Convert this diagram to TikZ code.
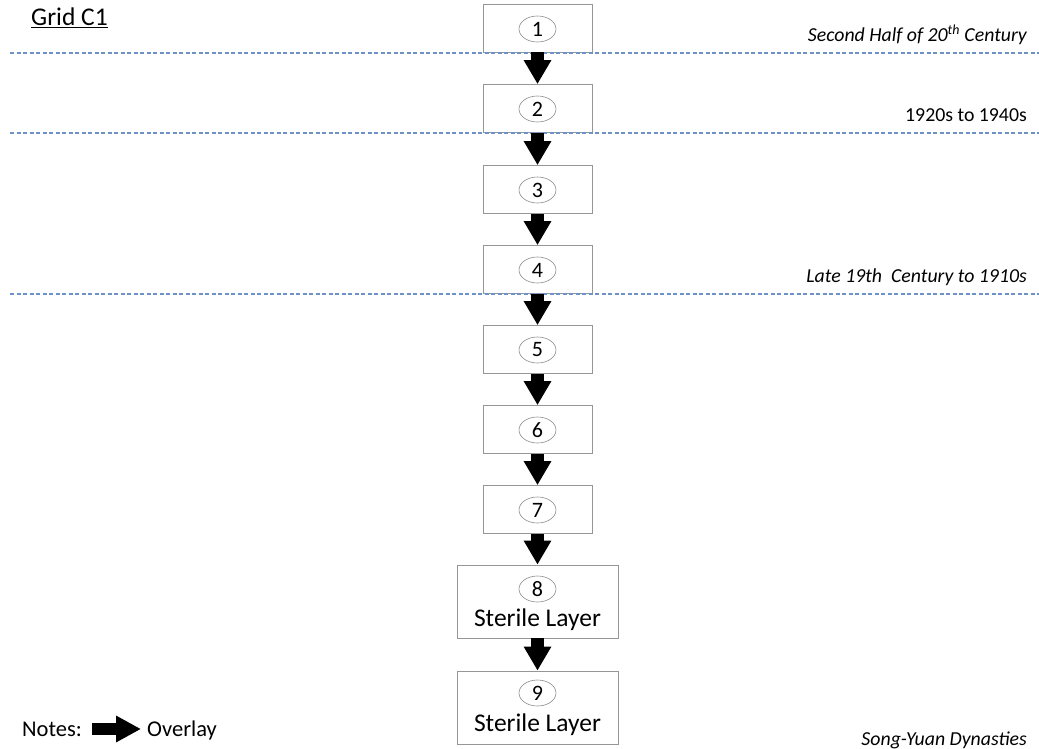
\documentclass[tikz,border=0pt]{standalone}
\usepackage{fontspec}
\setmainfont{Carlito}
\usetikzlibrary{arrows.meta,shapes.geometric}
\definecolor{boxgray}{RGB}{150,150,150}
\definecolor{dashblue}{RGB}{110,145,200}
\definecolor{ellgray}{RGB}{140,140,140}
\begin{document}
\begin{tikzpicture}[x=1pt,y=-1pt,
  box/.style={draw=boxgray, line width=0.8pt, fill=white, inner sep=0pt, minimum width=109pt, minimum height=48pt},
  bigbox/.style={box, minimum width=161pt, minimum height=73pt},
  num/.style={draw=ellgray, line width=0.6pt, ellipse, inner sep=0pt, minimum width=37pt, minimum height=26pt, font=\fontsize{22}{25}\selectfont},
  big/.style={font=\fontsize{25.5}{29}\selectfont, inner sep=0pt},
  lab/.style={font=\fontsize{19.8}{22}\selectfont, inner sep=0pt, anchor=base east},
  sep/.style={draw=dashblue, line width=1.1pt, dash pattern=on 4pt off 2.5pt},
  ovl/.style={line width=13.5pt, -{Triangle[length=24pt,width=26pt]}}
]
\useasboundingbox (0,0) rectangle (1039,749);

% dashed separators
\coordinate (s1a) at (10,53);  \coordinate (s1b) at (1039,53);
\coordinate (s2a) at (10,133); \coordinate (s2b) at (1039,133);
\coordinate (s3a) at (10,294); \coordinate (s3b) at (1039,294);

% boxes
\node[box] (b1) at (537.5,28) {};
\node[box] (b2) at (537.5,108.5) {};
\node[box] (b3) at (537.5,189.5) {};
\node[box] (b4) at (537.5,269.5) {};
\node[box] (b5) at (537.5,349.5) {};
\node[box] (b6) at (537.5,429.5) {};
\node[box] (b7) at (537.5,509.5) {};
\node[bigbox] (b8) at (537.5,601.5) {};
\node[bigbox] (b9) at (537.5,707.5) {};

\draw[sep] (s1a) -- (s1b);
\draw[sep] (s2a) -- (s2b);
\draw[sep] (s3a) -- (s3b);

% numbers
\node[num] (n1) at (537.5,29) {1};
\node[num] (n2) at (537.5,109) {2};
\node[num] (n3) at (537.5,190) {3};
\node[num] (n4) at (537.5,270) {4};
\node[num] (n5) at (537.5,350) {5};
\node[num] (n6) at (537.5,430) {6};
\node[num] (n7) at (537.5,510) {7};
\node[num] (n8) at (537.5,589) {8};
\node[num] (n9) at (537.5,693) {9};
\node[big, anchor=base] (t8) at (537.5,626) {Sterile Layer};
\node[big, anchor=base] (t9) at (537.5,731) {Sterile Layer};

% overlay arrows
\draw[ovl] (b1.south) -- (b2.north);
\draw[ovl] (b2.south) -- (b3.north);
\draw[ovl] (b3.south) -- (b4.north);
\draw[ovl] (b4.south) -- (b5.north);
\draw[ovl] (b5.south) -- (b6.north);
\draw[ovl] (b6.south) -- (b7.north);
\draw[ovl] (b7.south) -- (b8.north);
\draw[ovl] (b8.south) -- (b9.north);

% title
\node[big, anchor=base west] (title) at (31,26) {\underline{Grid C1}};

% period labels
\node[lab] (l1) at (1027,42) {\itshape Second Half of 20\textsuperscript{th} Century};
\node[lab] (l2) at (1027,122) {1920s to 1940s};
\node[lab] (l3) at (1027,282) {\itshape Late 19th\ \ Century to 1910s};
\node[lab] (l4) at (1027,745) {\itshape Song-Yuan Dynasties};

% notes
\node[big, anchor=base west, font=\fontsize{22.5}{26}\selectfont] (notes) at (22,736) {Notes:};
\coordinate (na) at (92,729);
\coordinate (nb) at (141,729);
\draw[line width=12pt, -{Triangle[length=25pt,width=25pt]}] (na) -- (nb);
\node[big, anchor=base west, font=\fontsize{22.5}{26}\selectfont] (ovltxt) at (147,736) {Overlay};
\end{tikzpicture}
\end{document}
